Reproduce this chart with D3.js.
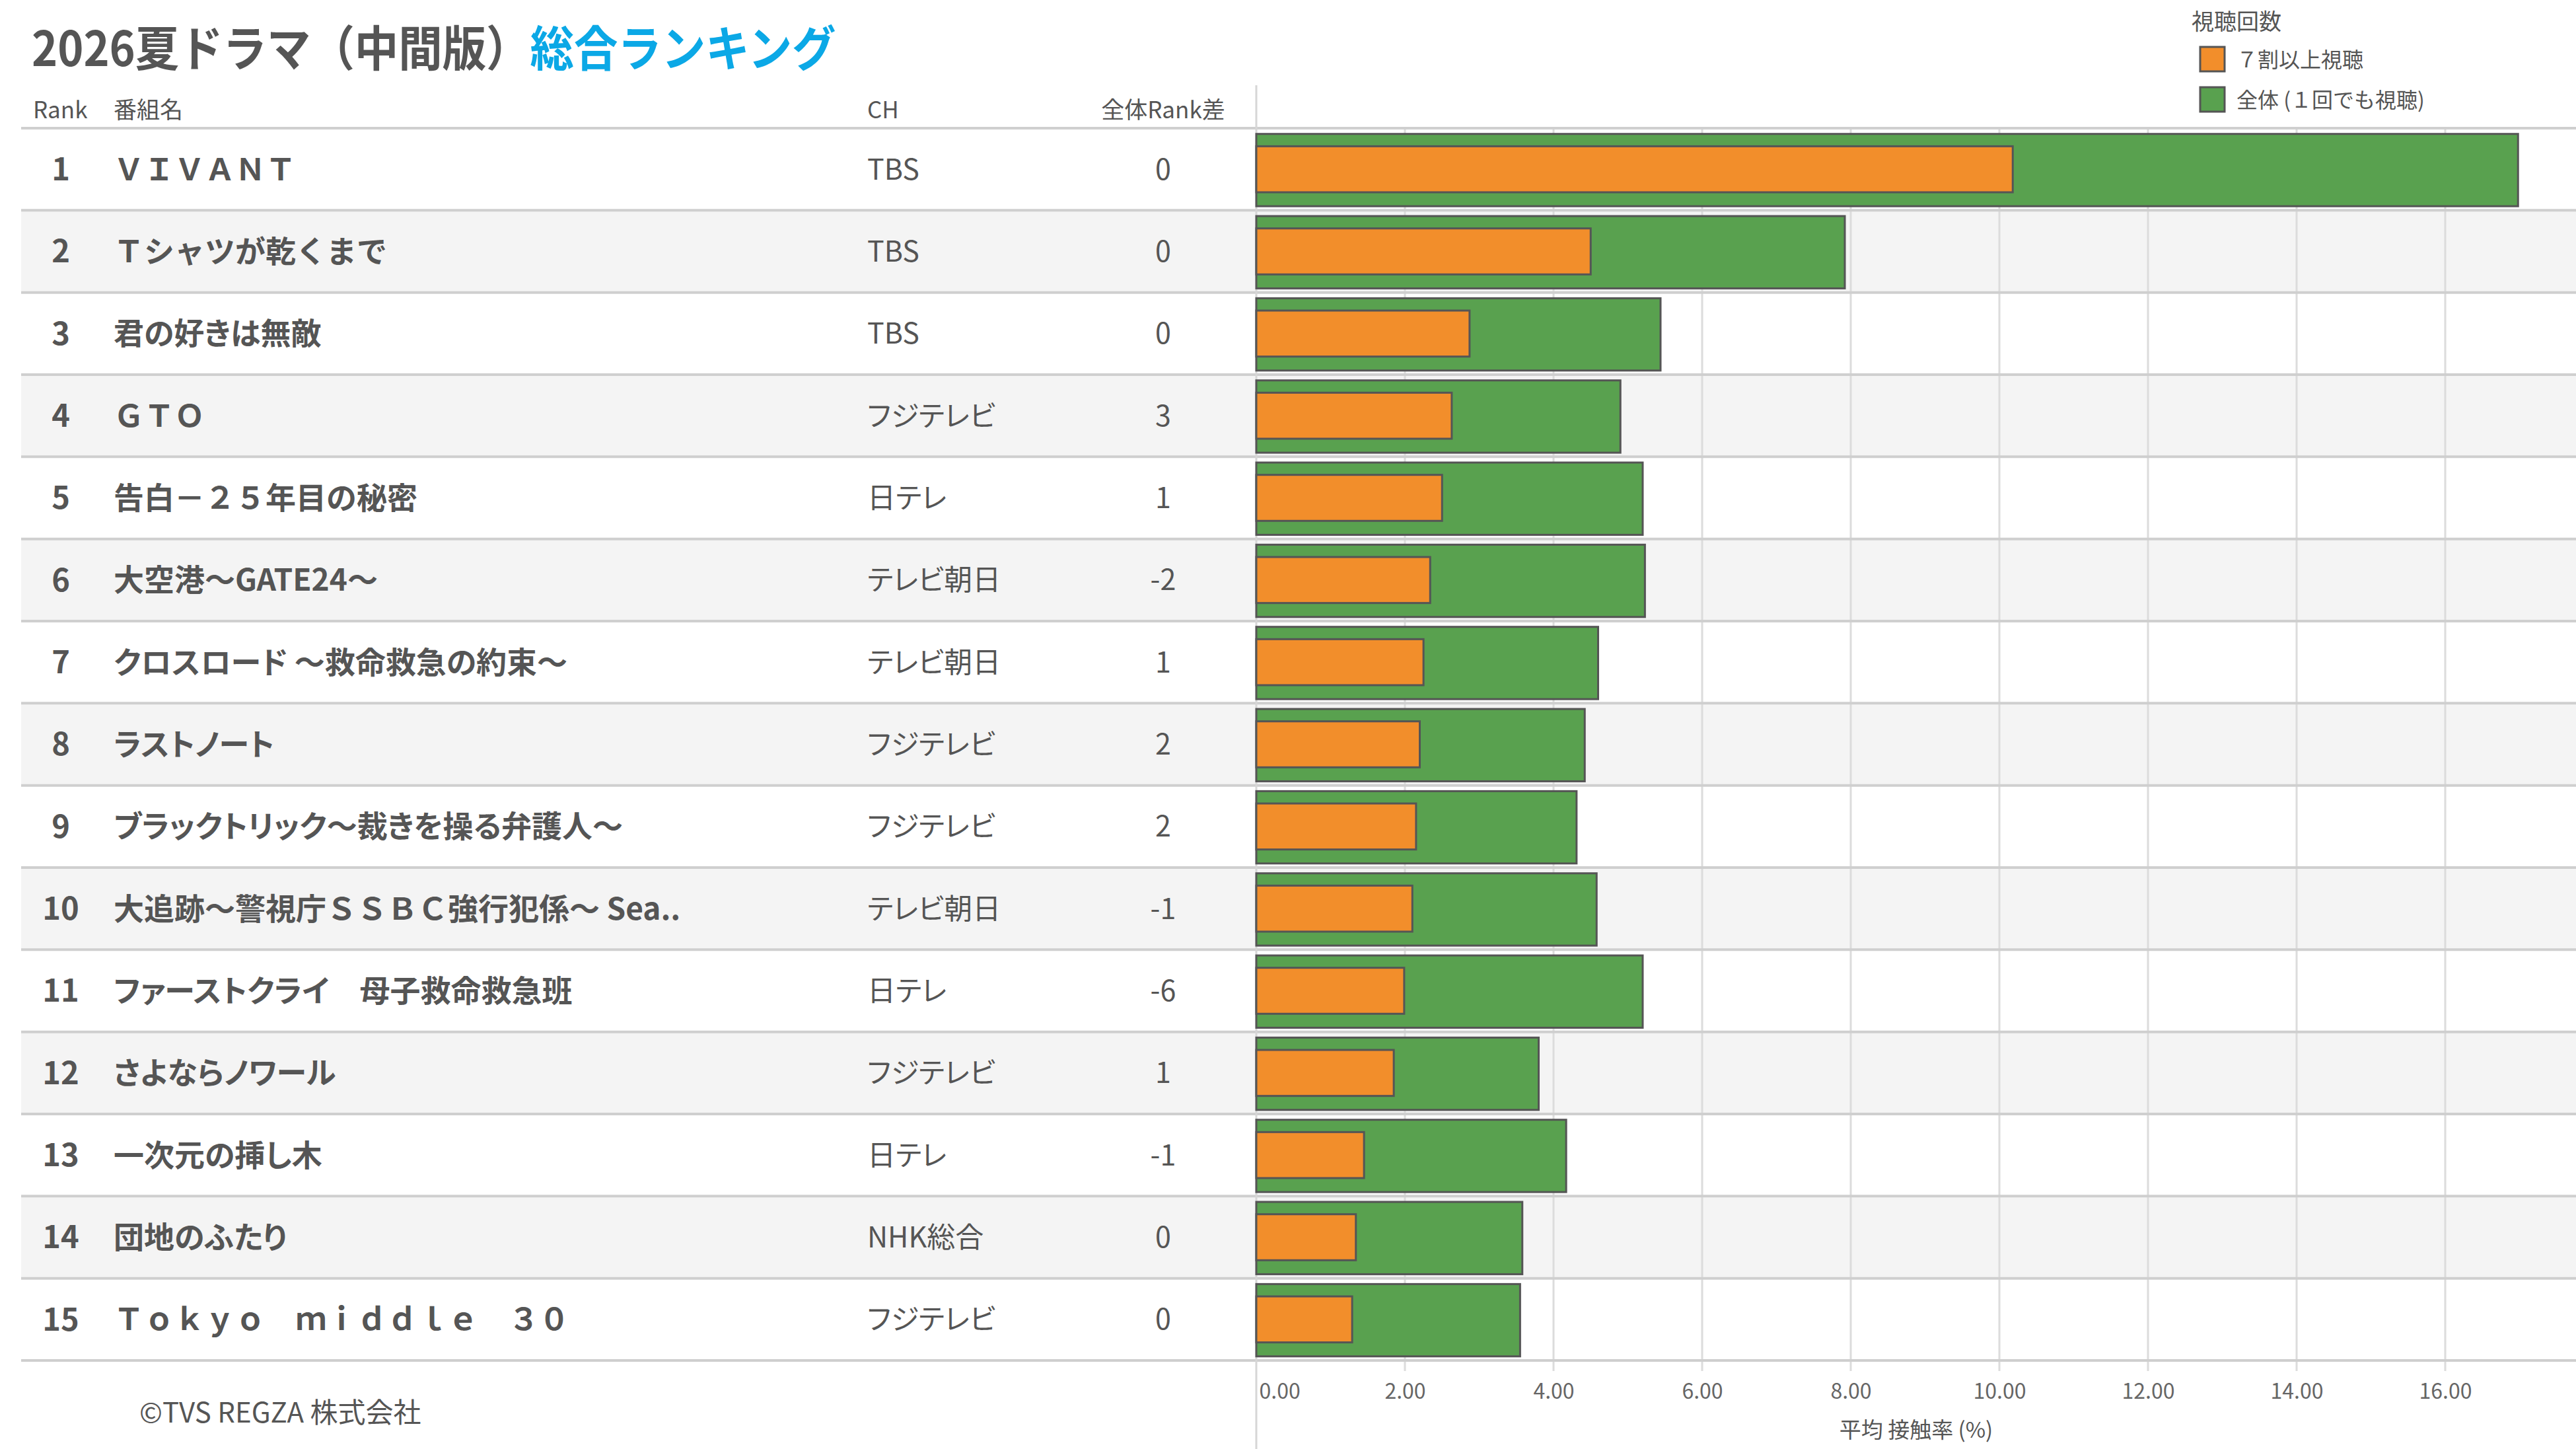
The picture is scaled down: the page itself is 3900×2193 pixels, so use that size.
<!DOCTYPE html>
<html lang="ja">
<head>
<meta charset="utf-8">
<title>2026夏ドラマ 総合ランキング</title>
<script src="https://d3js.org/d3.v7.min.js"></script>
<style>
  html, body { margin: 0; padding: 0; background: #fff; }
  svg { display: block; font-family: "Noto Sans CJK JP", "Noto Sans", sans-serif; }
  .txt { fill: #555; }
  .palt { font-feature-settings: "palt"; }
</style>
</head>
<body>
<script>
// data
const ranks = [1, 2, 3, 4, 5, 6, 7, 8, 9, 10, 11, 12, 13, 14, 15];
const titles = [
  "ＶＩＶＡＮＴ",
  "Ｔシャツが乾くまで",
  "君の好きは無敵",
  "ＧＴＯ",
  "告白－２５年目の秘密",
  "大空港～GATE24～",
  "クロスロード ～救命救急の約束～",
  "ラストノート",
  "ブラックトリック～裁きを操る弁護人～",
  "大追跡～警視庁ＳＳＢＣ強行犯係～ Sea..",
  "ファーストクライ　母子救命救急班",
  "さよならノワール",
  "一次元の挿し木",
  "団地のふたり",
  "Ｔｏｋｙｏ　ｍｉｄｄｌｅ　３０"
];
const channels = ["TBS", "TBS", "TBS", "フジテレビ", "日テレ", "テレビ朝日", "テレビ朝日", "フジテレビ",
  "フジテレビ", "テレビ朝日", "日テレ", "フジテレビ", "日テレ", "NHK総合", "フジテレビ"];
const rankDiffs = [0, 0, 0, 3, 1, -2, 1, 2, 2, -1, -6, 1, -1, 0, 0];
// 7割以上視聴
const highViewRates = [10.18, 4.50, 2.87, 2.63, 2.50, 2.34, 2.25, 2.20, 2.15, 2.10, 1.99, 1.85, 1.45, 1.34, 1.29];
// 全体（１回でも視聴）
const totalViewRates = [16.98, 7.92, 5.44, 4.90, 5.20, 5.23, 4.60, 4.42, 4.31, 4.58, 5.20, 3.80, 4.17, 3.58, 3.55];
const xTicks = [0, 2, 4, 6, 8, 10, 12, 14, 16];
const legendLabels = ["７割以上視聴", "全体 (１回でも視聴)"];

const W = 3900, H = 2193;
const colors = { high: "#f28e2b", total: "#59a14f" };
// full-width latin keeps its wide spacing, everything else gets proportional kana
const fullWidthAlnum = /[Ａ-Ｚａ-ｚ０-９]/;

const svg = d3.select("body").append("svg")
  .attr("width", W)
  .attr("height", H);

const x = d3.scaleLinear().domain([0, 17.76]).range([1902, 3900]);
const y = d3.scaleBand().domain(ranks).range([194, 2059]);
const bw = y.bandwidth();

// row shading
svg.selectAll(".shade")
  .data(ranks.filter(r => r % 2 === 0))
  .enter().append("rect")
  .attr("x", 32)
  .attr("y", d => y(d))
  .attr("width", W - 32)
  .attr("height", bw)
  .attr("fill", "#f4f4f4");

// grid lines
svg.selectAll(".grid")
  .data(xTicks.filter(t => t > 0))
  .enter().append("line")
  .attr("x1", d => x(d)).attr("x2", d => x(d))
  .attr("y1", 194).attr("y2", 2075)
  .attr("stroke", "#dcdcdc")
  .attr("stroke-width", 3);

// row separators
svg.selectAll(".sep")
  .data([ranks[0]].concat(ranks))
  .enter().append("line")
  .attr("x1", 32).attr("x2", W)
  .attr("y1", (d, i) => i === 0 ? y(d) : y(d) + bw)
  .attr("y2", (d, i) => i === 0 ? y(d) : y(d) + bw)
  .attr("stroke", "#cfcfcf")
  .attr("stroke-width", 4);

// table / chart divider (zero line)
svg.append("line")
  .attr("x1", x(0)).attr("x2", x(0))
  .attr("y1", 129).attr("y2", H)
  .attr("stroke", "#d6d6d6")
  .attr("stroke-width", 3);

// bars
svg.selectAll(".bar-total")
  .data(ranks)
  .enter().append("rect")
  .attr("x", x(0))
  .attr("y", d => y(d) + bw * 0.07)
  .attr("width", (d, i) => x(totalViewRates[i]) - x(0))
  .attr("height", bw * 0.88)
  .attr("fill", colors.total)
  .attr("stroke", "#555")
  .attr("stroke-width", 3);

svg.selectAll(".bar-high")
  .data(ranks)
  .enter().append("rect")
  .attr("x", x(0))
  .attr("y", d => y(d) + bw * 0.22)
  .attr("width", (d, i) => x(highViewRates[i]) - x(0))
  .attr("height", bw * 0.56)
  .attr("fill", colors.high)
  .attr("stroke", "#555")
  .attr("stroke-width", 3);

// table text
const rows = svg.selectAll(".row")
  .data(ranks)
  .enter().append("g")
  .attr("transform", d => `translate(0,${y(d) + bw / 2})`);

rows.append("text").attr("class", "txt")
  .attr("x", 92).attr("dy", "0.36em")
  .attr("text-anchor", "middle")
  .style("font-size", "47px").style("font-weight", 700)
  .text(d => d);

rows.append("text")
  .attr("class", (d, i) => fullWidthAlnum.test(titles[i]) ? "txt" : "txt palt")
  .attr("x", 172).attr("dy", "0.36em")
  .style("font-size", "46px").style("font-weight", 700)
  .text((d, i) => titles[i]);

rows.append("text").attr("class", "txt palt")
  .attr("x", 1313).attr("dy", "0.36em")
  .style("font-size", "43px")
  .text((d, i) => channels[i]);

rows.append("text").attr("class", "txt")
  .attr("x", 1761).attr("dy", "0.36em")
  .attr("text-anchor", "middle")
  .style("font-size", "43px")
  .text((d, i) => rankDiffs[i]);

// column headers
const headers = [
  { t: "Rank", x: 50, a: "start" },
  { t: "番組名", x: 172, a: "start" },
  { t: "CH", x: 1313, a: "start" },
  { t: "全体Rank差", x: 1761, a: "middle" }
];
svg.selectAll(".hdr")
  .data(headers)
  .enter().append("text").attr("class", "txt")
  .attr("x", d => d.x).attr("y", 179)
  .attr("text-anchor", d => d.a)
  .style("font-size", "35px")
  .text(d => d.t);

// title
const title = svg.append("text")
  .attr("transform", "translate(48,100) scale(0.91,1)")
  .style("font-size", "73px").style("font-weight", 700);
title.append("tspan").attr("fill", "#555").text("2026夏ドラマ（中間版）");
title.append("tspan").attr("fill", "#0ba8e6").text("総合ランキング");

// x axis
const xAxis = svg.append("g")
  .attr("transform", `translate(0,2059)`)
  .call(d3.axisBottom(x).tickValues(xTicks).tickSize(0).tickPadding(35).tickFormat(d3.format(".2f")));
xAxis.select(".domain").remove();
xAxis.selectAll("text")
  .attr("fill", "#666")
  .style("font-size", "32px")
  .style("font-family", "\"Noto Sans CJK JP\", sans-serif");
xAxis.selectAll(".tick").filter(d => d === 0).select("text")
  .attr("text-anchor", "start").attr("x", 4);

svg.append("text").attr("class", "txt")
  .attr("x", (x(0) + W) / 2).attr("y", 2176)
  .attr("text-anchor", "middle")
  .style("font-size", "33px")
  .text("平均 接触率 (%)");

// copyright
svg.append("text").attr("class", "txt")
  .attr("x", 211).attr("y", 2153)
  .style("font-size", "42px")
  .text("©TVS REGZA 株式会社");

// legend
const legend = svg.append("g").attr("transform", "translate(3318,0)");
legend.append("text").attr("class", "txt")
  .attr("x", 0).attr("y", 45)
  .style("font-size", "34px")
  .text("視聴回数");
const items = legend.selectAll(".item")
  .data([colors.high, colors.total])
  .enter().append("g")
  .attr("transform", (d, i) => `translate(0,${71 + i * 61})`);
items.append("rect")
  .attr("x", 13).attr("width", 37).attr("height", 37)
  .attr("fill", d => d)
  .attr("stroke", "#555")
  .attr("stroke-width", 3);
items.append("text").attr("class", "txt")
  .attr("x", 68).attr("y", 31)
  .style("font-size", "32px")
  .text((d, i) => legendLabels[i]);
</script>
</body>
</html>
